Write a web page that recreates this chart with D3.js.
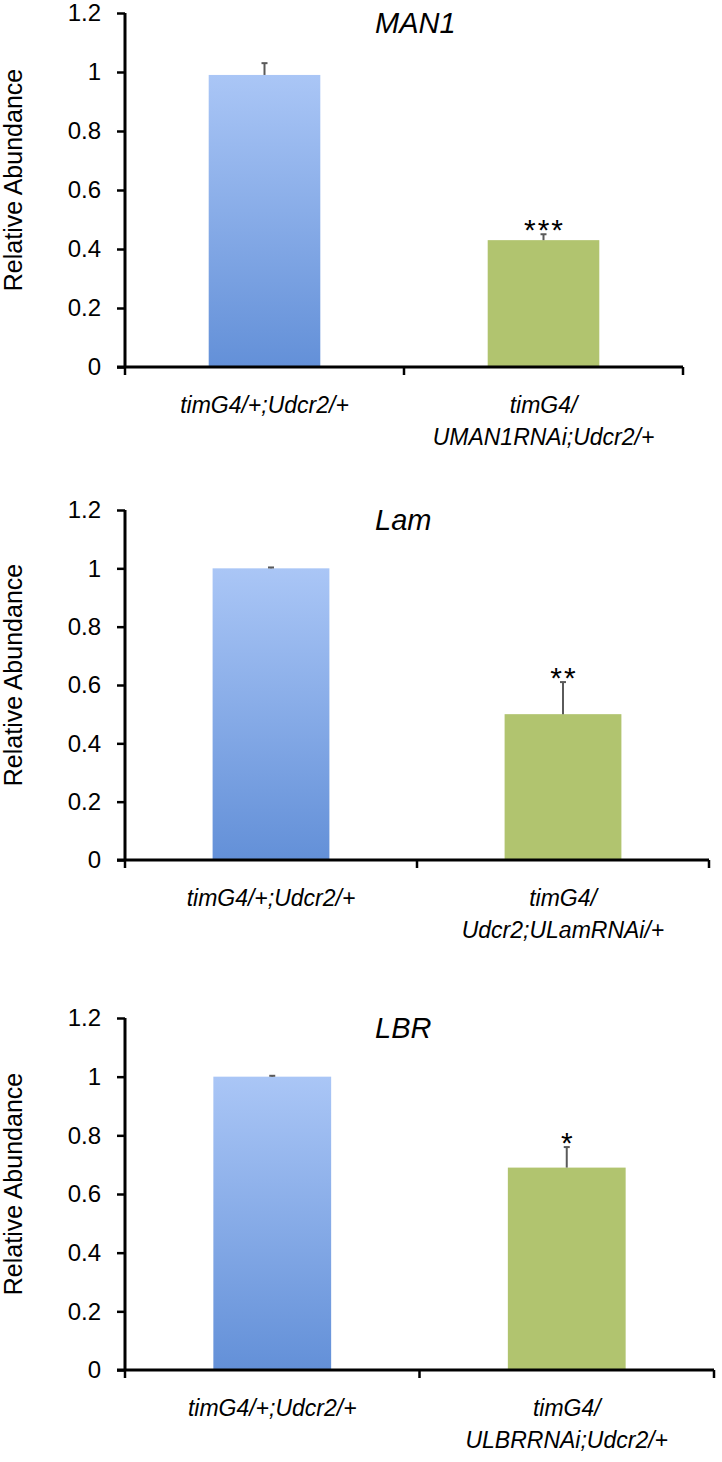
<!DOCTYPE html>
<html>
<head>
<meta charset="utf-8">
<script src="https://cdn.jsdelivr.net/npm/d3@7"></script>
<style>
  body { margin: 0; background: #fff; }
  svg { display: block; }
  text { font-family: "Liberation Sans", Arial, sans-serif; }
</style>
</head>
<body>
<div id="chart"></div>
<script>
// data
const genes = ["MAN1", "Lam", "LBR"];
const controlLabel = "timG4/+;Udcr2/+";
const knockdownLabels = [
  ["timG4/", "UMAN1RNAi;Udcr2/+"],
  ["timG4/", "Udcr2;ULamRNAi/+"],
  ["timG4/", "ULBRRNAi;Udcr2/+"]
];
const controlValues = [0.99, 1.0, 1.0];
const controlErrors = [0.04, 0.003, 0.003];
const knockdownValues = [0.43, 0.5, 0.69];
const knockdownErrors = [0.02, 0.11, 0.07];
const significance = ["***", "**", "*"];
const yTicks = [0, 0.2, 0.4, 0.6, 0.8, 1, 1.2];

// panel placement on the page
const PANELS = [
  { top: 13, bottom: 367, left: 125, right: 683 },
  { top: 510, bottom: 860, left: 125, right: 709 },
  { top: 1018, bottom: 1370, left: 125, right: 714 }
];
const W = 722, H = 1462;

const svg = d3.select('#chart')
  .append('svg')
    .attr('width', W)
    .attr('height', H);

const lg = svg.append('defs').append('linearGradient')
  .attr('id', 'blueGrad')
  .attr('x1', '0%').attr('x2', '0%')
  .attr('y1', '0%').attr('y2', '100%');
lg.append('stop').attr('offset', '0%').style('stop-color', '#aac6f6');
lg.append('stop').attr('offset', '100%').style('stop-color', '#6390d8');

genes.forEach((gene, i) => {
  const p = PANELS[i];
  const cats = ['control', 'knockdown'];
  const rows = [
    { cat: 'control', value: controlValues[i], err: controlErrors[i], fill: 'url(#blueGrad)' },
    { cat: 'knockdown', value: knockdownValues[i], err: knockdownErrors[i], fill: '#b1c46f' }
  ];

  const x = d3.scaleBand().domain(cats).range([p.left, p.right]).padding(0);
  const y = d3.scaleLinear().domain([0, 1.2]).range([p.bottom, p.top]);
  const g = svg.append('g');
  const mid = c => x(c) + x.bandwidth() / 2;

  // bars
  const bw = x.bandwidth() * 0.4;
  g.selectAll('rect.bar')
    .data(rows)
    .join('rect')
      .attr('class', 'bar')
      .attr('x', d => mid(d.cat) - bw / 2)
      .attr('y', d => y(d.value))
      .attr('width', bw)
      .attr('height', d => y(0) - y(d.value))
      .attr('fill', d => d.fill);

  // error bars, upper half only
  const eb = g.selectAll('g.err')
    .data(rows)
    .join('g')
      .attr('class', 'err')
      .attr('stroke', '#5a5a5a')
      .attr('stroke-width', 2);
  eb.append('line')
    .attr('x1', d => mid(d.cat)).attr('x2', d => mid(d.cat))
    .attr('y1', d => y(d.value))
    .attr('y2', d => y(d.value + d.err));
  eb.append('line')
    .attr('x1', d => mid(d.cat) - 3).attr('x2', d => mid(d.cat) + 3)
    .attr('y1', d => y(d.value + d.err))
    .attr('y2', d => y(d.value + d.err));

  // significance stars
  g.append('text')
    .attr('x', mid('knockdown') + 1)
    .attr('y', y(knockdownValues[i] + knockdownErrors[i]) + 6)
    .attr('text-anchor', 'middle')
    .attr('font-size', 30)
    .attr('letter-spacing', 2)
    .text(significance[i]);

  // y axis
  const yAxis = g.append('g')
    .attr('transform', `translate(${p.left},0)`)
    .call(d3.axisLeft(y).tickValues(yTicks).tickSize(8).tickPadding(16)
      .tickFormat(d => d3.format('~g')(d)));
  yAxis.select('.domain').attr('stroke-width', 3).attr('d', `M0,${p.top}V${p.bottom}`);
  yAxis.selectAll('.tick line').attr('stroke-width', 2.5);
  yAxis.selectAll('.tick text')
    .attr('font-size', 24)
    .attr('font-family', '"Liberation Sans", Arial, sans-serif')
    .attr('fill', '#000');

  // x axis, ticks sit between the categories
  g.append('line')
    .attr('x1', p.left - 8).attr('x2', p.right)
    .attr('y1', y(0)).attr('y2', y(0))
    .attr('stroke', '#000').attr('stroke-width', 3);
  const bounds = cats.map(c => x(c)).concat([x.range()[1]]);
  g.selectAll('line.xtick')
    .data(bounds)
    .join('line')
      .attr('class', 'xtick')
      .attr('x1', d => d).attr('x2', d => d)
      .attr('y1', y(0)).attr('y2', y(0) + 8)
      .attr('stroke', '#000').attr('stroke-width', 2.5);

  // category labels
  const lines = [[controlLabel], knockdownLabels[i]];
  cats.forEach((c, k) => {
    const t = g.append('text')
      .attr('x', mid(c))
      .attr('y', y(0) + 46)
      .attr('text-anchor', 'middle')
      .attr('font-size', 23)
      .attr('font-style', 'italic');
    lines[k].forEach((s, j) => {
      t.append('tspan')
        .attr('x', mid(c))
        .attr('dy', j === 0 ? 0 : 32)
        .text(s);
    });
  });

  // gene title
  g.append('text')
    .attr('x', p.left + 250)
    .attr('y', p.top + 20)
    .attr('font-size', 29)
    .attr('font-style', 'italic')
    .text(gene);

  // y axis title
  g.append('text')
    .attr('transform', `translate(22,${(p.top + p.bottom) / 2 - 10}) rotate(-90)`)
    .attr('text-anchor', 'middle')
    .attr('font-size', 25)
    .text('Relative Abundance');
});
</script>
</body>
</html>
